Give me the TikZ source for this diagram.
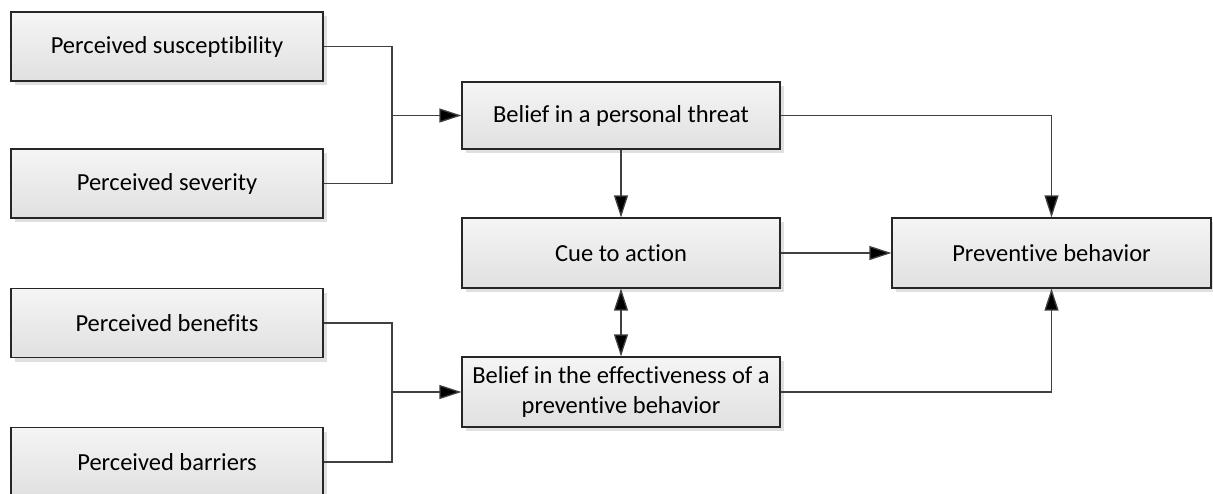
\documentclass[tikz,border=0pt]{standalone}
\usepackage{fontspec}
\setmainfont{Carlito}[Ligatures=NoCommon]
\usetikzlibrary{arrows.meta,shadows}

\tikzset{
    box/.style={draw=black!85, line width=1.2pt, top color=black!4, bottom color=black!12,
        minimum width=312pt, minimum height=69pt, align=center,
        font=\fontsize{24.5}{30}\selectfont,
        drop shadow={shadow xshift=4pt, shadow yshift=-4pt, fill=black!12, opacity=1}},
    link/.style={draw=black!75, line width=1.3pt},
    tip/.style={link, -{Triangle[length=22pt,width=14pt,fill=black]}},
    bitip/.style={link, {Triangle[length=22pt,width=14pt,fill=black]}-{Triangle[length=22pt,width=14pt,fill=black]}}
}

\begin{document}
\begin{tikzpicture}[x=1pt,y=-1pt]
            \useasboundingbox (0,0) rectangle (1213,493);

            \coordinate (sus) at (167,46.5);
            \coordinate (sev) at (167,183.5);
            \coordinate (ben) at (167,323);
            \coordinate (bar) at (167,462);
            \coordinate (thr) at (621,115.5);
            \coordinate (cue) at (621,253);
            \coordinate (eff) at (621,392);
            \coordinate (pre) at (1051.5,253);
            \coordinate (j1) at (392,115.5);
            \coordinate (j2) at (392,392);

            \node[box] (n-sus) at (sus) {Perceived susceptibility};
            \node[box] (n-sev) at (sev) {Perceived severity};
            \node[box] (n-ben) at (ben) {Perceived benefits};
            \node[box] (n-bar) at (bar) {Perceived barriers};

            \node[box, minimum width=318pt, minimum height=67pt] (n-thr) at (thr) {Belief in a personal threat};
            \node[box, minimum width=318pt, minimum height=70pt] (n-cue) at (cue) {Cue to action};
            \node[box, minimum width=318pt, minimum height=70pt] (n-eff) at (eff) {Belief in the effectiveness of a\\preventive behavior};
            \node[box, minimum width=319pt, minimum height=70pt] (n-pre) at (pre) {Preventive behavior};

            \draw[link] (n-sus.east) -| (j1) |- (n-sev.east);
            \draw[tip] (j1) -- (n-thr.west);
            \draw[link] (n-ben.east) -| (j2) |- (n-bar.east);
            \draw[tip] (j2) -- (n-eff.west);

            \draw[tip] (n-thr.south) -- (n-cue.north);
            \draw[bitip] (n-cue.south) -- (n-eff.north);
            \draw[tip] (n-cue.east) -- (n-pre.west);
            \draw[tip] (n-thr.east) -| (n-pre.north);
            \draw[tip] (n-eff.east) -| (n-pre.south);
        \end{tikzpicture}
\end{document}
